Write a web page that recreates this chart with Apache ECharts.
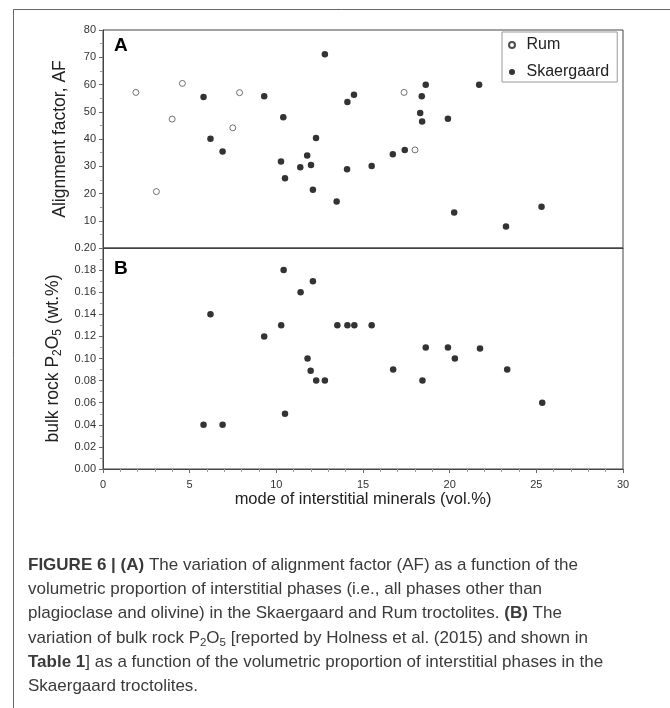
<!DOCTYPE html>
<html>
<head>
<meta charset="utf-8">
<script src="https://cdn.jsdelivr.net/npm/echarts@6/dist/echarts.min.js"></script>
<style>
  html, body { margin: 0; padding: 0; background: #fff; }
  #chart { width: 670px; height: 708px; }
</style>
</head>
<body>
<div id="chart"></div>
<script>
// panel A: alignment factor vs mode of interstitial minerals
const rumMode = [1.9, 3.08, 3.99, 4.58, 7.49, 7.88, 17.37, 18.0];
const rumAF = [57.1, 20.7, 47.3, 60.4, 44.1, 57.0, 57.1, 36.0];

const skgModeA = [5.8, 6.2, 6.9, 9.3, 10.4, 10.27, 10.5, 11.38, 11.78, 12.0, 12.29, 12.11, 12.8, 13.48, 14.1,
  14.08, 14.48, 15.5, 16.72, 17.41, 18.62, 18.39, 18.3, 18.41, 19.9, 21.7, 20.26, 23.25, 25.3];
const skgAF = [55.4, 40.1, 35.4, 55.7, 48.0, 31.7, 25.6, 29.6, 33.9, 30.5, 40.4, 21.4, 71.1, 17.1, 53.6,
  28.9, 56.2, 30.1, 34.4, 36.0, 59.9, 55.7, 49.5, 46.4, 47.4, 59.9, 13.0, 7.9, 15.1];

// panel B: bulk rock P2O5 vs mode of interstitial minerals
const skgModeB = [5.8, 6.2, 6.9, 9.3, 10.28, 10.42, 10.5, 11.4, 11.8, 11.98, 12.11, 12.3, 12.8, 13.52, 14.1,
  14.5, 15.5, 16.74, 18.43, 18.62, 19.9, 20.3, 21.75, 23.32, 25.34];
const skgP2O5 = [0.04, 0.14, 0.04, 0.12, 0.13, 0.18, 0.05, 0.16, 0.10, 0.089, 0.17, 0.08, 0.08, 0.13, 0.13,
  0.13, 0.13, 0.09, 0.08, 0.11, 0.11, 0.10, 0.109, 0.09, 0.06];

const captionLines = [
  '{b|FIGURE 6 | (A)} The variation of alignment factor (AF) as a function of the',
  'volumetric proportion of interstitial phases (i.e., all phases other than',
  'plagioclase and olivine) in the Skaergaard and Rum troctolites. {b|(B)} The',
  'variation of bulk rock P{sub|2}O{sub|5} [reported by {g|Holness et al. (2015)} and shown in',
  '{b|Table 1}] as a function of the volumetric proportion of interstitial phases in the',
  'Skaergaard troctolites.'
];

const zip = (xs, ys) => xs.map((x, i) => [x, ys[i]]);

const font = 'Liberation Sans, Arial, sans-serif';
const tickLabel = { fontSize: 11, color: '#333', fontFamily: font };
const lineStyle = { color: '#444', width: 1 };

const captionRich = {
  b: { fontWeight: 'bold', color: '#222', fontSize: 17, fontFamily: font },
  g: { color: '#8a8a8a', fontSize: 17, fontFamily: font },
  sub: { fontSize: 11.5, verticalAlign: 'bottom', lineHeight: 12, color: '#3a3a3a', fontFamily: font }
};

let chart = echarts.init(document.getElementById('chart'));

option = {
  backgroundColor: '#fff',
  animation: false,
  grid: [
    { left: 103, top: 30, width: 520, height: 218, show: true, borderColor: '#444', borderWidth: 1 },
    { left: 103, top: 248, width: 520, height: 221, show: true, borderColor: '#444', borderWidth: 1 }
  ],
  legend: {
    orient: 'vertical',
    left: 502,
    top: 32,
    padding: [5, 8, 2, 6],
    itemGap: 11,
    itemWidth: 19,
    itemHeight: 6,
    borderColor: '#999',
    borderWidth: 1,
    backgroundColor: '#fff',
    data: ['Rum', { name: 'Skaergaard', itemStyle: { color: '#000' } }],
    textStyle: { fontSize: 16, color: '#222', fontFamily: font }
  },
  xAxis: [
    {
      gridIndex: 0, type: 'value', min: 0, max: 30, interval: 5,
      axisLine: { lineStyle: lineStyle },
      axisTick: { show: false },
      axisLabel: { show: false },
      splitLine: { show: false }
    },
    {
      gridIndex: 1, type: 'value', min: 0, max: 30, interval: 5,
      name: 'mode of interstitial minerals (vol.%)',
      nameLocation: 'middle',
      nameGap: 22,
      nameTextStyle: { fontSize: 16.5, color: '#222', fontFamily: font },
      axisLine: { lineStyle: lineStyle },
      axisTick: { length: 4, lineStyle: { color: '#666' } },
      minorTick: { show: true, splitNumber: 5, length: 3, lineStyle: { color: '#999' } },
      axisLabel: Object.assign({ margin: 10 }, tickLabel),
      splitLine: { show: false }
    }
  ],
  yAxis: [
    {
      gridIndex: 0, type: 'value', min: 0, max: 80, interval: 10,
      name: 'Alignment factor, AF',
      nameLocation: 'middle',
      nameGap: 34,
      nameTextStyle: { fontSize: 17.5, color: '#222', fontFamily: font },
      axisLine: { lineStyle: lineStyle },
      axisTick: { length: 4, lineStyle: { color: '#666' } },
      minorTick: { show: true, splitNumber: 2, length: 3, lineStyle: { color: '#999' } },
      axisLabel: Object.assign({ margin: 7, showMinLabel: false }, tickLabel),
      splitLine: { show: false }
    },
    {
      gridIndex: 1, type: 'value', min: 0, max: 0.2, interval: 0.02,
      name: 'bulk rock P{sub|2}O{sub|5} (wt.%)',
      nameLocation: 'middle',
      nameGap: 34,
      nameTextStyle: {
        fontSize: 17.5, color: '#222', fontFamily: font, lineHeight: 21,
        rich: { sub: { fontSize: 12, verticalAlign: 'bottom', lineHeight: 12, color: '#222', fontFamily: font } }
      },
      axisLine: { lineStyle: lineStyle },
      axisTick: { length: 4, lineStyle: { color: '#666' } },
      minorTick: { show: true, splitNumber: 2, length: 3, lineStyle: { color: '#999' } },
      axisLabel: Object.assign({ margin: 7, formatter: v => v.toFixed(2) }, tickLabel),
      splitLine: { show: false }
    }
  ],
  series: [
    {
      name: 'Rum', type: 'scatter', xAxisIndex: 0, yAxisIndex: 0,
      symbol: 'circle', symbolSize: 6,
      itemStyle: { color: '#fff', borderColor: '#222', borderWidth: 0.8 },
      data: zip(rumMode, rumAF)
    },
    {
      name: 'Skaergaard', type: 'scatter', xAxisIndex: 0, yAxisIndex: 0,
      symbol: 'circle', symbolSize: 6.5,
      itemStyle: { color: '#000' },
      data: zip(skgModeA, skgAF)
    },
    {
      name: 'Skaergaard', type: 'scatter', xAxisIndex: 1, yAxisIndex: 1,
      symbol: 'circle', symbolSize: 6.5,
      itemStyle: { color: '#000' },
      data: zip(skgModeB, skgP2O5)
    }
  ],
  graphic: [
    // figure frame (open to the right and bottom)
    { type: 'line', shape: { x1: 13.5, y1: 9.5, x2: 670, y2: 9.5 }, style: { stroke: '#666', lineWidth: 1 } },
    { type: 'line', shape: { x1: 13.5, y1: 9.5, x2: 13.5, y2: 708 }, style: { stroke: '#666', lineWidth: 1 } },
    // panel letters
    { type: 'text', left: 114, top: 36, style: { text: 'A', fontSize: 19, fontWeight: 'bold', fill: '#000', fontFamily: font } },
    { type: 'text', left: 114, top: 259, style: { text: 'B', fontSize: 19, fontWeight: 'bold', fill: '#000', fontFamily: font } }
  ].concat(captionLines.map((t, i) => ({
    type: 'text',
    left: 28,
    top: 554.5 + i * 24.3,
    style: {
      text: t,
      fontSize: 17,
      fill: '#3a3a3a',
      fontFamily: font,
      lineHeight: 21,
      rich: captionRich
    }
  })))
};

chart.setOption(option);
</script>
</body>
</html>
